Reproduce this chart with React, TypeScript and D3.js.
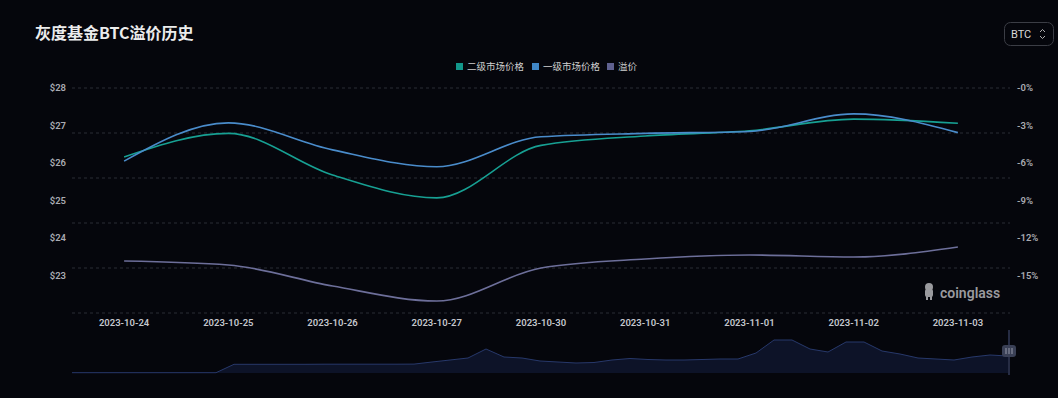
import React from "react";
import * as d3 from "d3";

const dates = ["2023-10-24", "2023-10-25", "2023-10-26", "2023-10-27", "2023-10-30", "2023-10-31", "2023-11-01", "2023-11-02", "2023-11-03"];
const secondary = [26.16, 26.79, 25.68, 25.07, 26.47, 26.72, 26.86, 27.17, 27.06];
const primary = [26.05, 27.07, 26.35, 25.9, 26.7, 26.79, 26.84, 27.31, 26.81];
const premium = [-13.84, -14.16, -15.84, -17.04, -14.4, -13.68, -13.36, -13.52, -12.72];
const priceTicks = [23, 24, 25, 26, 27, 28];
const pctTicks = [-15, -12, -9, -6, -3, 0];
// overview (data zoom) series
const overview = [0.3, 0.3, 0.3, 0.3, 0.3, 0.3, 0.3, 0.3, 0.3, 8.7, 8.7, 8.7, 8.7, 8.7, 8.8, 8.8, 8.8, 8.8, 8.8, 8.9, 11, 13, 15, 24, 16, 15, 12, 11, 10, 10.5, 13, 14.5, 13.5, 13, 13, 13.5, 14, 14, 20, 33, 33, 24, 21, 31, 31, 22, 19, 15, 14, 13, 16, 18, 17];

const legend = [
  { name: "二级市场价格", color: "#12978b" },
  { name: "一级市场价格", color: "#3f86c6" },
  { name: "溢价", color: "#5f6190" },
];

const W = 1058;
const H = 398;
const left = 72;
const right = 1010;
const top = 88;
const bottom = 313;

export default function App() {
  const x = d3.scaleBand().domain(dates).range([left, right]);
  const cx = (d: string) => (x(d) ?? 0) + x.bandwidth() / 2;
  const yPrice = d3.scaleLinear().domain([22, 28]).range([bottom, top]);
  const yPct = d3.scaleLinear().domain([-18, 0]).range([bottom, top]);
  const gridY = d3.scaleLinear().domain([0, 5]).range([bottom, top]);

  const line = d3.line<number>().curve(d3.curveMonotoneX);
  const pricePath = (vals: number[]) =>
    line.x((_, i) => cx(dates[i])).y((v) => yPrice(v))(vals) || "";
  const pctPath = line.x((_, i) => cx(dates[i])).y((v) => yPct(v))(premium) || "";

  const ox = d3.scaleLinear().domain([0, overview.length - 1]).range([left, 1008]);
  const oy = d3.scaleLinear().domain([0, 37]).range([373, 336]);
  const oArea = d3.area<number>().x((_, i) => ox(i)).y0(373).y1((v) => oy(v))(overview) || "";
  const oLine = d3.line<number>().x((_, i) => ox(i)).y((v) => oy(v))(overview) || "";

  const cjk = "'Noto Sans CJK SC', 'Noto Sans', sans-serif";
  const num = "Roboto, 'Noto Sans', sans-serif";

  return (
    <svg width={W} height={H} style={{ position: "absolute", left: 0, top: 0, background: "#05060c" }}>
      <rect width={W} height={H} fill="#05060c" />
      <text x={35} y={39} fill="#ececec" fontSize={16} fontWeight={700} fontFamily={cjk}>灰度基金BTC溢价历史</text>

      <rect x={1004.5} y={22.5} width={49} height={23} rx={6} fill="none" stroke="#3b3d45" />
      <text x={1011} y={38} fill="#d8d8d8" fontSize={11} fontFamily={num}>BTC</text>
      <path d="M1040,32 l2.5,-2.5 l2.5,2.5 M1040,36 l2.5,2.5 l2.5,-2.5" stroke="#b0b0b0" fill="none" strokeWidth={1} />

      {legend.map((l, i) => {
        const lx = [456, 532, 607][i];
        return (
          <g key={l.name}>
            <rect x={lx} y={63} width={7} height={7} fill={l.color} />
            <text x={lx + 11} y={70} fill="#d0d0d0" fontSize={9.5} fontFamily={cjk}>{l.name}</text>
          </g>
        );
      })}

      {d3.range(6).map((i) => (
        <line key={i} x1={left} x2={right} y1={gridY(i)} y2={gridY(i)} stroke="#2a2c34" strokeDasharray="3,3" />
      ))}

      {priceTicks.map((t) => (
        <text key={t} x={66} y={yPrice(t) + 3} textAnchor="end" fill="#a9abb2" fontSize={9.5} fontWeight={600} fontFamily={num}>${t}</text>
      ))}
      {pctTicks.map((t) => (
        <text key={t} x={1017} y={yPct(t) + 3} fill="#a9abb2" fontSize={9.5} fontWeight={600} fontFamily={num}>{t === 0 ? "-0%" : `${t}%`}</text>
      ))}
      {dates.map((d) => (
        <text key={d} x={cx(d)} y={326} textAnchor="middle" fill="#c4c6cc" fontSize={9.5} fontWeight={600} fontFamily={num}>{d}</text>
      ))}

      <path d={pctPath} fill="none" stroke="#6d6f9a" strokeWidth={1.6} />
      <path d={pricePath(secondary)} fill="none" stroke="#17a093" strokeWidth={1.6} />
      <path d={pricePath(primary)} fill="none" stroke="#4a8ccb" strokeWidth={1.6} />

      <g fill="#9a9a9e">
        <circle cx={929} cy={287} r={4} />
        <rect x={925} y={289} width={8} height={8} rx={2} />
        <rect x={926} y={296} width={2} height={4} />
        <rect x={930} y={296} width={2} height={4} />
        <text x={940} y={298} fontSize={14} fontWeight={600} fontFamily={num}>coinglass</text>
      </g>

      <path d={oArea} fill="#0d1328" />
      <path d={oLine} fill="none" stroke="#27386a" strokeWidth={1} />
      <line x1={1009} x2={1009} y1={330} y2={375} stroke="#262c44" strokeWidth={2} />
      <rect x={1002} y={345} width={14} height={12} rx={3} fill="#3a4056" />
      <path d="M1006,348 v6 M1009,348 v6 M1012,348 v6" stroke="#aeb2c0" strokeWidth={0.8} />
    </svg>
  );
}
